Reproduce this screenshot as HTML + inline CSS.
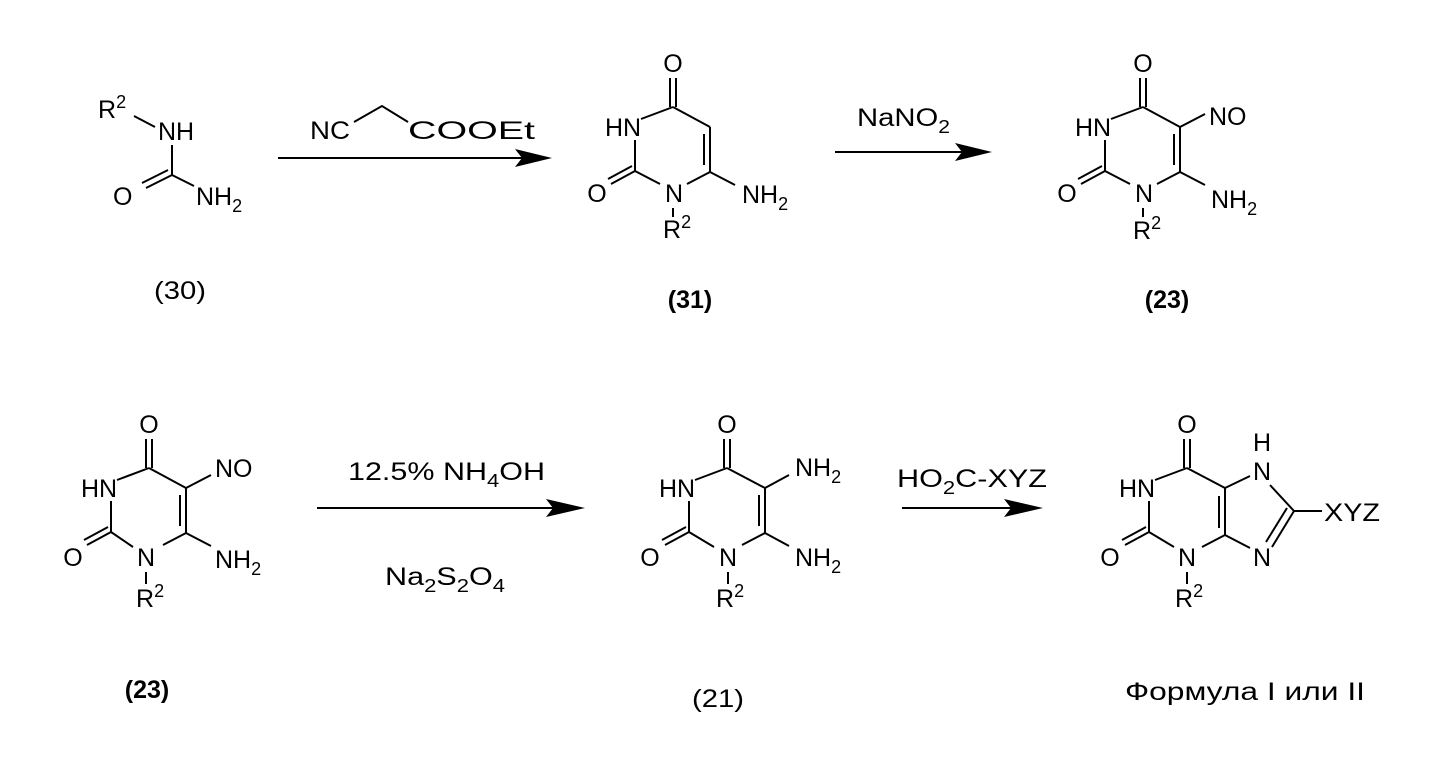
<!DOCTYPE html>
<html><head><meta charset="utf-8"><style>
html,body{margin:0;padding:0;background:#fff;}
svg{display:block;}
text{font-family:"Liberation Sans",Arial,sans-serif;font-size:25px;fill:#000;}
line,polyline{stroke:#000;stroke-width:2;fill:none;}
.b{font-weight:bold;}
</style></head><body>
<svg width="1444" height="762" viewBox="0 0 1444 762" xmlns="http://www.w3.org/2000/svg">

<!-- (30) -->
<g>
<text x="98" y="118">R<tspan dy="-10" font-size="18">2</tspan></text>
<line x1="134" y1="116" x2="155" y2="127"/>
<text x="158" y="140">NH</text>
<line x1="172" y1="145" x2="172" y2="175"/>
<line x1="172" y1="175" x2="146" y2="188"/>
<line x1="168" y1="170" x2="142" y2="183"/>
<text x="113" y="205">O</text>
<line x1="172" y1="175" x2="194" y2="186"/>
<text x="196" y="205">NH<tspan dy="7" font-size="18">2</tspan></text>
<text x="180" y="299" text-anchor="middle" textLength="52" lengthAdjust="spacingAndGlyphs">(30)</text>
</g>

<!-- arrow 1 -->
<text x="310" y="139" textLength="40" lengthAdjust="spacingAndGlyphs">NC</text>
<polyline points="354,122 382,106 408,122"/>
<text x="408" y="139" textLength="127" lengthAdjust="spacingAndGlyphs">COOEt</text>
<line x1="278" y1="158" x2="525" y2="158"/>
<polygon points="515,149 552,158 515,167 522,158" fill="#000"/>

<!-- (31) -->
<g transform="translate(673,107)">
<text x="0" y="-35" text-anchor="middle">O</text>
<line x1="-3" y1="-29" x2="-3" y2="0"/><line x1="3" y1="-29" x2="3" y2="0"/>
<text x="-50" y="29" text-anchor="middle">HN</text>
<line x1="-32" y1="12" x2="0" y2="0"/>
<line x1="0" y1="0" x2="37" y2="20"/>
<line x1="37" y1="20" x2="37" y2="65"/><line x1="31" y1="27" x2="31" y2="58"/>
<line x1="37" y1="65" x2="14" y2="77"/>
<text x="1" y="95" text-anchor="middle">N</text>
<line x1="-13" y1="77" x2="-38" y2="64"/>
<line x1="-38" y1="64" x2="-38" y2="33"/>
<line x1="-38" y1="64" x2="-62" y2="77"/><line x1="-41" y1="59" x2="-65" y2="72"/>
<text x="-76" y="95" text-anchor="middle">O</text>
<line x1="0" y1="101" x2="0" y2="110"/>
<text x="-10" y="131">R<tspan dy="-10" font-size="18">2</tspan></text>
<line x1="37" y1="65" x2="62" y2="78"/>
<text x="69" y="96">NH<tspan dy="7" font-size="18">2</tspan></text>
</g>
<text x="690" y="308" text-anchor="middle" class="b">(31)</text>

<!-- arrow 2 -->
<text x="857" y="126" textLength="93" lengthAdjust="spacingAndGlyphs">NaNO<tspan dy="7" font-size="18">2</tspan></text>
<line x1="835" y1="152" x2="965" y2="152"/>
<polygon points="955,143 992,152 955,161 962,152" fill="#000"/>

<!-- (23) top -->
<g transform="translate(1143,107)">
<text x="0" y="-35" text-anchor="middle">O</text>
<line x1="-3" y1="-29" x2="-3" y2="0"/><line x1="3" y1="-29" x2="3" y2="0"/>
<text x="-50" y="29" text-anchor="middle">HN</text>
<line x1="-32" y1="12" x2="0" y2="0"/>
<line x1="0" y1="0" x2="37" y2="20"/>
<line x1="37" y1="20" x2="37" y2="65"/><line x1="31" y1="27" x2="31" y2="58"/>
<line x1="37" y1="20" x2="62" y2="7"/>
<text x="66" y="18">NO</text>
<line x1="37" y1="65" x2="14" y2="77"/>
<text x="1" y="95" text-anchor="middle">N</text>
<line x1="-13" y1="77" x2="-38" y2="64"/>
<line x1="-38" y1="64" x2="-38" y2="33"/>
<line x1="-38" y1="64" x2="-62" y2="77"/><line x1="-41" y1="59" x2="-65" y2="72"/>
<text x="-76" y="95" text-anchor="middle">O</text>
<line x1="0" y1="101" x2="0" y2="110"/>
<text x="-10" y="132">R<tspan dy="-10" font-size="18">2</tspan></text>
<line x1="37" y1="65" x2="62" y2="78"/>
<text x="68" y="101">NH<tspan dy="7" font-size="18">2</tspan></text>
</g>
<text x="1167" y="308" text-anchor="middle" class="b">(23)</text>

<!-- (23) bottom -->
<g transform="translate(149,468)">
<text x="0" y="-35" text-anchor="middle">O</text>
<line x1="-3" y1="-29" x2="-3" y2="0"/><line x1="3" y1="-29" x2="3" y2="0"/>
<text x="-50" y="29" text-anchor="middle">HN</text>
<line x1="-32" y1="12" x2="0" y2="0"/>
<line x1="0" y1="0" x2="37" y2="20"/>
<line x1="37" y1="20" x2="37" y2="65"/><line x1="31" y1="27" x2="31" y2="58"/>
<line x1="37" y1="20" x2="62" y2="7"/>
<text x="66" y="9">NO</text>
<line x1="37" y1="65" x2="14" y2="77"/>
<text x="-3" y="98" text-anchor="middle">N</text>
<line x1="-16" y1="79" x2="-38" y2="64"/>
<line x1="-38" y1="64" x2="-38" y2="33"/>
<line x1="-38" y1="64" x2="-62" y2="77"/><line x1="-41" y1="59" x2="-65" y2="72"/>
<text x="-76" y="98" text-anchor="middle">O</text>
<line x1="-3" y1="104" x2="-3" y2="116"/>
<text x="-13" y="139">R<tspan dy="-10" font-size="18">2</tspan></text>
<line x1="37" y1="65" x2="62" y2="78"/>
<text x="66" y="100">NH<tspan dy="7" font-size="18">2</tspan></text>
</g>
<text x="147" y="698" text-anchor="middle" class="b">(23)</text>

<!-- arrow 3 -->
<text x="348" y="480" textLength="197" lengthAdjust="spacingAndGlyphs">12.5% NH<tspan dy="7" font-size="18">4</tspan><tspan dy="-7">OH</tspan></text>
<line x1="317" y1="508" x2="556" y2="508"/>
<polygon points="546,499 585,508 546,517 553,508" fill="#000"/>
<text x="385" y="585" textLength="120" lengthAdjust="spacingAndGlyphs">Na<tspan dy="7" font-size="18">2</tspan><tspan dy="-7">S</tspan><tspan dy="7" font-size="18">2</tspan><tspan dy="-7">O</tspan><tspan dy="7" font-size="18">4</tspan></text>

<!-- (21) -->
<g transform="translate(727,468)">
<text x="0" y="-35" text-anchor="middle">O</text>
<line x1="-3" y1="-29" x2="-3" y2="0"/><line x1="3" y1="-29" x2="3" y2="0"/>
<text x="-50" y="29" text-anchor="middle">HN</text>
<line x1="-32" y1="12" x2="0" y2="0"/>
<line x1="0" y1="0" x2="38" y2="20"/>
<line x1="38" y1="20" x2="38" y2="65"/><line x1="32" y1="27" x2="32" y2="58"/>
<line x1="38" y1="20" x2="62" y2="7"/>
<text x="68" y="8">NH<tspan dy="7" font-size="18">2</tspan></text>
<line x1="38" y1="65" x2="15" y2="77"/>
<text x="1" y="98" text-anchor="middle">N</text>
<line x1="-13" y1="79" x2="-38" y2="64"/>
<line x1="-38" y1="64" x2="-38" y2="33"/>
<line x1="-38" y1="64" x2="-62" y2="77"/><line x1="-41" y1="59" x2="-65" y2="72"/>
<text x="-77" y="98" text-anchor="middle">O</text>
<line x1="1" y1="104" x2="1" y2="116"/>
<text x="-11" y="139">R<tspan dy="-10" font-size="18">2</tspan></text>
<line x1="38" y1="65" x2="62" y2="78"/>
<text x="68" y="98">NH<tspan dy="7" font-size="18">2</tspan></text>
</g>
<text x="718" y="707" text-anchor="middle" textLength="52" lengthAdjust="spacingAndGlyphs">(21)</text>

<!-- arrow 4 -->
<text x="897" y="487" textLength="150" lengthAdjust="spacingAndGlyphs">HO<tspan dy="7" font-size="18">2</tspan><tspan dy="-7">C-XYZ</tspan></text>
<line x1="902" y1="508" x2="1012" y2="508"/>
<polygon points="1004,499 1043,508 1004,517 1011,508" fill="#000"/>

<!-- purine -->
<g transform="translate(1187,468)">
<text x="0" y="-35" text-anchor="middle">O</text>
<line x1="-3" y1="-29" x2="-3" y2="0"/><line x1="3" y1="-29" x2="3" y2="0"/>
<text x="-50" y="29" text-anchor="middle">HN</text>
<line x1="-32" y1="12" x2="0" y2="0"/>
<line x1="0" y1="0" x2="38" y2="20"/>
<line x1="38" y1="20" x2="38" y2="67"/><line x1="32" y1="28" x2="32" y2="60"/>
<line x1="38" y1="20" x2="63" y2="8"/>
<text x="75" y="-17" text-anchor="middle">H</text>
<text x="75" y="12" text-anchor="middle">N</text>
<line x1="83" y1="17" x2="107" y2="43"/>
<line x1="107" y1="43" x2="135" y2="43"/>
<text x="137" y="53" textLength="56" lengthAdjust="spacingAndGlyphs">XYZ</text>
<line x1="107" y1="43" x2="85" y2="79"/><line x1="100" y1="40" x2="79" y2="74"/>
<text x="75" y="98" text-anchor="middle">N</text>
<line x1="38" y1="67" x2="63" y2="80"/>
<line x1="38" y1="67" x2="15" y2="79"/>
<text x="0" y="98" text-anchor="middle">N</text>
<line x1="-13" y1="79" x2="-38" y2="64"/>
<line x1="-38" y1="64" x2="-38" y2="33"/>
<line x1="-38" y1="64" x2="-62" y2="77"/><line x1="-41" y1="59" x2="-65" y2="72"/>
<text x="-77" y="98" text-anchor="middle">O</text>
<line x1="0" y1="104" x2="0" y2="116"/>
<text x="-12" y="139">R<tspan dy="-10" font-size="18">2</tspan></text>
</g>
<text x="1125" y="700" textLength="240" lengthAdjust="spacingAndGlyphs">Формула I или II</text>

</svg>
</body></html>
